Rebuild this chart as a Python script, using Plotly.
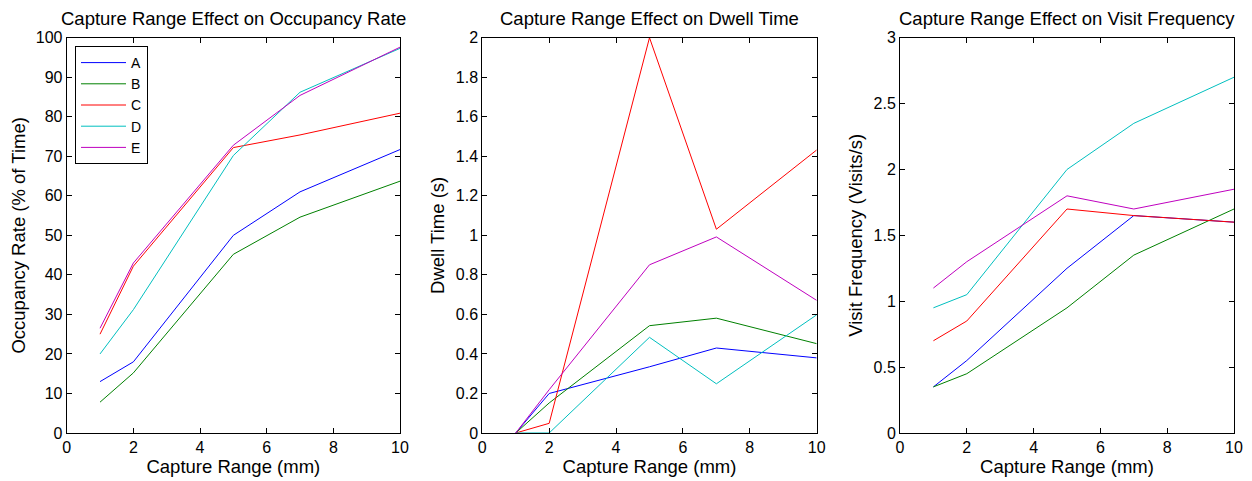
import plotly.graph_objects as go

capture_range = [1, 2, 5, 7, 10]
series_names = ["A", "B", "C", "D", "E"]
colors = ["#0000ff", "#008000", "#ff0000", "#00bfbf", "#bf00bf"]

occupancy_A = [13.0, 18.0, 50.0, 61.0, 71.7]
occupancy_B = [7.8, 15.2, 45.2, 54.6, 63.7]
occupancy_C = [25.0, 42.2, 72.2, 75.4, 80.9]
occupancy_D = [20.0, 31.2, 70.2, 86.2, 97.3]
occupancy_E = [26.5, 43.0, 72.8, 85.4, 97.6]

dwell_A = [0.0, 0.20, 0.335, 0.43, 0.38]
dwell_B = [0.0, 0.152, 0.543, 0.581, 0.452]
dwell_C = [0.0, 0.049, 2.0, 1.031, 1.432]
dwell_D = [0.0, 0.0, 0.484, 0.249, 0.598]
dwell_E = [0.0, 0.219, 0.851, 0.992, 0.671]

visit_A = [0.35, 0.55, 1.25, 1.65, 1.60]
visit_B = [0.35, 0.45, 0.95, 1.35, 1.70]
visit_C = [0.70, 0.85, 1.70, 1.65, 1.60]
visit_D = [0.95, 1.05, 2.00, 2.35, 2.70]
visit_E = [1.10, 1.30, 1.80, 1.70, 1.85]

panels = [
    ("Capture Range Effect on Occupancy Rate", "Occupancy Rate (% of Time)",
     [occupancy_A, occupancy_B, occupancy_C, occupancy_D, occupancy_E], [0, 100], 10),
    ("Capture Range Effect on Dwell Time", "Dwell Time (s)",
     [dwell_A, dwell_B, dwell_C, dwell_D, dwell_E], [0, 2], 0.2),
    ("Capture Range Effect on Visit Frequency", "Visit Frequency (Visits/s)",
     [visit_A, visit_B, visit_C, visit_D, visit_E], [0, 3], 0.5),
]

# page body has an 8px margin; figure is placed at (8, 8)
OFF = 8
W, H = 1252 - OFF, 481 - OFF


def px_x(p):
    return (p - OFF) / W


def px_y(p):
    return 1 - (p - OFF) / H


x_domains = [(px_x(66.7), px_x(400.0)), (px_x(482.3), px_x(816.7)), (px_x(900.0), px_x(1234.0))]
y_domain = (px_y(433.0), px_y(37.7))

FONT = "Liberation Sans, Arial, Helvetica, sans-serif"

fig = go.Figure()
layout = dict(
    width=W, height=H,
    margin=dict(l=0, r=0, t=0, b=0, autoexpand=False),
    paper_bgcolor="white", plot_bgcolor="white",
    font=dict(family=FONT, size=16, color="black"),
    showlegend=True,
    legend=dict(x=px_x(75.0), y=px_y(46.0), xanchor="left", yanchor="top",
                bordercolor="black", borderwidth=1, bgcolor="white",
                font=dict(size=14), tracegroupgap=0, itemwidth=45),
    annotations=[],
)

for i, (title, ytitle, data, yrange, dtick) in enumerate(panels):
    ax = "" if i == 0 else str(i + 1)
    for name, vals, col in zip(series_names, data, colors):
        fig.add_trace(go.Scatter(
            x=capture_range, y=vals, mode="lines", name=name,
            line=dict(color=col, width=1),
            xaxis="x" + ax, yaxis="y" + ax,
            showlegend=(i == 0),
        ))
    common = dict(showline=True, linecolor="black", linewidth=1, mirror="ticks",
                  ticks="inside", ticklen=5, tickcolor="black", showgrid=False,
                  zeroline=False, tickfont=dict(size=16), automargin=False)
    layout["xaxis" + ax] = dict(domain=list(x_domains[i]), range=[0, 10], dtick=2,
                                anchor="y" + ax,
                                title=dict(text="Capture Range (mm)", font=dict(size=18.5), standoff=2),
                                **common)
    layout["yaxis" + ax] = dict(domain=list(y_domain), range=yrange, dtick=dtick,
                                anchor="x" + ax,
                                title=dict(text=ytitle, font=dict(size=18.5), standoff=6),
                                **common)
    cx = (x_domains[i][0] + x_domains[i][1]) / 2
    layout["annotations"].append(dict(
        text=title, x=cx, y=px_y(18.0), xref="paper", yref="paper",
        xanchor="center", yanchor="middle", showarrow=False,
        font=dict(size=18.5, family=FONT, color="black")))

fig.update_layout(**layout)
fig.write_html("out.html")
